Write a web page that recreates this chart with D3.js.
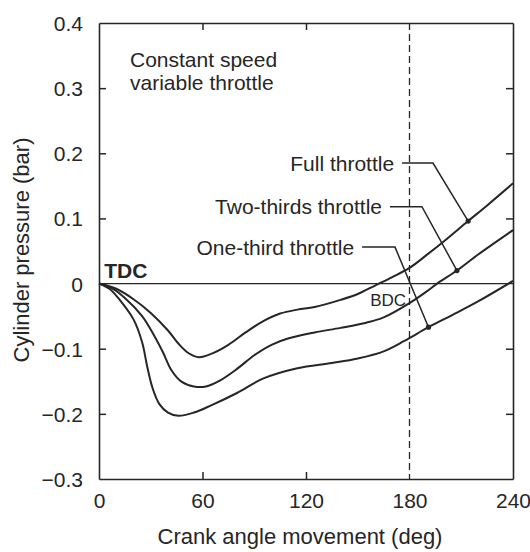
<!DOCTYPE html>
<html>
<head>
<meta charset="utf-8">
<script src="https://cdn.jsdelivr.net/npm/d3@7"></script>
<style>
  body { margin: 0; background: #fff; }
  svg { display: block; font-family: "Liberation Sans", Arial, Helvetica, sans-serif; }
</style>
</head>
<body>
<svg id="chart" width="530" height="552"></svg>
<script>
// crank angle (deg) and cylinder pressure (bar)
var fullThrottle = [
  [0, 0], [10, -0.008], [20, -0.024], [30, -0.045], [40, -0.072], [46, -0.092],
  [52, -0.107], [58, -0.113], [65, -0.108], [75, -0.094], [85, -0.075], [95, -0.058],
  [105, -0.046], [115, -0.040], [125, -0.036], [140, -0.025], [150, -0.016],
  [160, -0.003], [170, 0.010], [180, 0.024], [190, 0.044], [200, 0.065],
  [214, 0.096], [225, 0.120], [240, 0.154]
];
var twoThirdsThrottle = [
  [0, 0], [8, -0.008], [15, -0.022], [25, -0.050], [32, -0.080], [37, -0.105],
  [42, -0.133], [48, -0.151], [55, -0.158], [62, -0.158], [70, -0.149], [80, -0.131],
  [90, -0.110], [100, -0.094], [110, -0.084], [125, -0.075], [140, -0.068],
  [155, -0.060], [165, -0.052], [180, -0.030], [190, -0.012], [196, 0],
  [207.5, 0.020], [220, 0.045], [240, 0.082]
];
var oneThirdThrottle = [
  [0, 0], [6, -0.008], [12, -0.025], [20, -0.055], [25, -0.090], [28, -0.128],
  [31, -0.160], [35, -0.185], [40, -0.198], [46, -0.203], [55, -0.198], [65, -0.187],
  [80, -0.168], [95, -0.146], [115, -0.130], [135, -0.122], [150, -0.115],
  [165, -0.104], [177, -0.088], [191, -0.067], [205, -0.048], [220, -0.027], [240, 0.004]
];

var xTicks = [0, 60, 120, 180, 240];
var yTicks = [-0.3, -0.2, -0.1, 0, 0.1, 0.2, 0.3, 0.4];

// leader labels: text, marker point on curve, elbow of the leader line (data units)
var labelNames = ["Full throttle", "Two-thirds throttle", "One-third throttle"];
var labelMarks = [[214, 0.096], [207.5, 0.020], [191, -0.067]];
var labelElbows = [[175.7, 193.6, 0.185], [168.7, 187.2, 0.118], [152.5, 171.6, 0.056]];

var svg = d3.select("#chart");
var margin = { top: 23, right: 17, bottom: 73, left: 99 };
var width = 530 - margin.left - margin.right;
var height = 552 - margin.top - margin.bottom;
var ink = "#262626";

var g = svg.append("g").attr("transform", "translate(" + margin.left + "," + margin.top + ")");

var x = d3.scaleLinear().domain([0, 240]).range([0, width]);
var y = d3.scaleLinear().domain([-0.3, 0.4]).range([height, 0]);

function fmt(d) { return d === 0 ? "0" : d3.format(".1f")(d).replace("-", "\u2212"); }

// axes with inward ticks
var axes = [
  g.append("g").attr("transform", "translate(0," + height + ")")
    .call(d3.axisBottom(x).tickValues(xTicks).tickSize(-7).tickSizeOuter(0).tickPadding(14).tickFormat(d3.format("d"))),
  g.append("g").call(d3.axisLeft(y).tickValues(yTicks).tickSize(-7).tickSizeOuter(0).tickPadding(16).tickFormat(fmt)),
  g.append("g").call(d3.axisTop(x).tickValues([60, 120]).tickSize(-7).tickSizeOuter(0).tickFormat("")),
  g.append("g").attr("transform", "translate(" + width + ",0)")
    .call(d3.axisRight(y).tickValues(yTicks).tickSize(-7).tickSizeOuter(0).tickFormat(""))
];
axes.forEach(function(a) {
  a.select(".domain").attr("stroke", ink).attr("stroke-width", 1.6);
  a.selectAll(".tick line").attr("stroke", ink).attr("stroke-width", 1.5);
  a.selectAll(".tick text").attr("fill", ink).style("font-size", "21px");
});
// hide the x ticks sitting on the frame corners and on the BDC line
axes[0].selectAll(".tick line").filter(function(d) { return d === 0 || d === 180 || d === 240; }).remove();
axes[1].selectAll(".tick line").filter(function(d) { return d === 0.4 || d === -0.3; }).remove();
axes[3].selectAll(".tick line").filter(function(d) { return d === 0.4 || d === -0.3 || d === 0; }).remove();
axes[1].selectAll(".tick text").attr("dy", "0.36em");
axes[0].selectAll(".tick text").attr("dy", "0.71em");

// zero line and BDC dashed line
g.append("line")
  .attr("x1", x(0)).attr("x2", x(240)).attr("y1", y(0)).attr("y2", y(0))
  .attr("stroke", ink).attr("stroke-width", 1.3);
g.append("line")
  .attr("x1", x(180)).attr("x2", x(180)).attr("y1", 0).attr("y2", height)
  .attr("stroke", ink).attr("stroke-width", 1.3).attr("stroke-dasharray", "7,4");

// curves
var line = d3.line()
  .x(function(d) { return x(d[0]); })
  .y(function(d) { return y(d[1]); })
  .curve(d3.curveCatmullRom.alpha(0.5));

[fullThrottle, twoThirdsThrottle, oneThirdThrottle].forEach(function(s) {
  g.append("path").datum(s)
    .attr("d", line)
    .attr("fill", "none")
    .attr("stroke", ink)
    .attr("stroke-width", 2);
});

// leader lines, markers and labels
labelNames.forEach(function(name, i) {
  var e = labelElbows[i], m = labelMarks[i];
  g.append("polyline")
    .attr("points", [[x(e[0]), y(e[2])], [x(e[1]), y(e[2])], [x(m[0]), y(m[1])]].join(" "))
    .attr("fill", "none").attr("stroke", ink).attr("stroke-width", 1.5);
  g.append("circle")
    .attr("cx", x(m[0])).attr("cy", y(m[1])).attr("r", 2.6).attr("fill", ink);
  g.append("text")
    .attr("x", x(e[0]) - 8).attr("y", y(e[2]))
    .attr("dy", "0.36em")
    .attr("text-anchor", "end")
    .attr("fill", ink)
    .style("font-size", "21px")
    .text(name);
});

// text annotations
g.append("text").attr("x", 31).attr("y", 44).attr("fill", ink).style("font-size", "21px").text("Constant speed");
g.append("text").attr("x", 31).attr("y", 67).attr("fill", ink).style("font-size", "21px").text("variable throttle");
g.append("text").attr("x", x(3)).attr("y", y(0) - 6).attr("fill", ink).style("font-size", "21px")
  .style("font-weight", "bold").text("TDC");
g.append("text").attr("x", x(178)).attr("y", y(0) + 22).attr("text-anchor", "end")
  .attr("fill", ink).style("font-size", "17px").text("BDC");

// axis titles
svg.append("text")
  .attr("x", margin.left + width / 2 - 6).attr("y", 544)
  .attr("text-anchor", "middle").attr("fill", ink).style("font-size", "22px")
  .text("Crank angle movement (deg)");
svg.append("text")
  .attr("transform", "translate(29," + 250 + ") rotate(-90)")
  .attr("text-anchor", "middle").attr("fill", ink).style("font-size", "22px")
  .text("Cylinder pressure (bar)");
</script>
</body>
</html>
